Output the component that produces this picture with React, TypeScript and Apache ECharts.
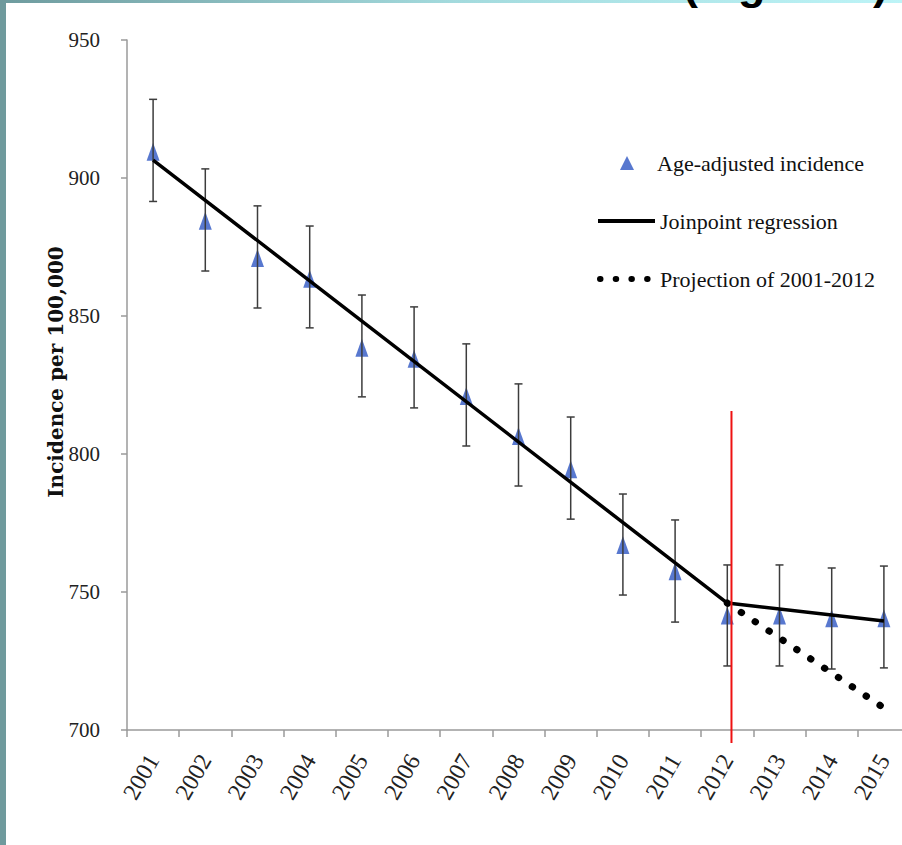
import React, { useEffect, useRef } from 'react';
import * as echarts from 'echarts';

const years = ['2001', '2002', '2003', '2004', '2005', '2006', '2007', '2008', '2009', '2010', '2011', '2012', '2013', '2014', '2015'];
const incidence = [909.5, 884.5, 871, 863.5, 838.5, 834.5, 821, 806.5, 794.5, 767, 757.5, 741.5, 741.5, 740.5, 740.5];
const ciLower = [891.5, 866.3, 852.9, 845.7, 820.7, 816.7, 802.9, 788.4, 776.4, 748.9, 739.1, 723.2, 723.2, 722.1, 722.5];
const ciUpper = [928.5, 903.3, 889.9, 882.6, 857.6, 853.3, 839.9, 825.4, 813.4, 785.5, 776.1, 759.8, 759.8, 758.7, 759.4];
const joinpoint = [906.5, null, null, null, null, null, null, null, null, null, null, 746, null, null, 739.5];
const projection = [null, null, null, null, null, null, null, null, null, null, null, 746, null, null, 708];
const yMin = 700;
const yMax = 950;
const yInterval = 50;
// joinpoint marker (position on a continuous 0..15 scale where category i spans [i, i+1])
const cutPosition = [11.58, 11.58];
const cutValues = [695.3, 815.6];

const SERIES_TRI = 'Age-adjusted incidence';
const SERIES_JP = 'Joinpoint regression';
const SERIES_PROJ = 'Projection of 2001-2012';

export default function App() {
  const ref = useRef<HTMLDivElement>(null);

  useEffect(() => {
    if (!ref.current) return;
    const chart = echarts.init(ref.current, undefined, { renderer: 'svg' });
    const serif = 'Liberation Serif';

    const option: any = {
      animation: false,
      backgroundColor: '#ffffff',
      grid: { left: 127, top: 40, bottom: 115, right: -8, containLabel: false, outerBoundsMode: 'none' },
      xAxis: [
        {
          type: 'category',
          data: years,
          boundaryGap: true,
          axisLine: { lineStyle: { color: '#9a9a9a', width: 1.5 } },
          axisTick: { show: true, length: 7, lineStyle: { color: '#9a9a9a', width: 1.5 } },
          axisLabel: {
            rotate: 60,
            margin: 26,
            fontFamily: serif,
            fontSize: 24,
            color: '#222',
          },
          splitLine: { show: false },
        },
        {
          type: 'value',
          min: 0,
          max: 15,
          show: false,
          position: 'bottom',
        },
      ],
      yAxis: {
        type: 'value',
        min: yMin,
        max: yMax,
        interval: yInterval,
        name: 'Incidence per 100,000',
        nameLocation: 'middle',
        nameRotate: 90,
        nameGap: 61,
        nameMoveOverlap: false,
        nameTextStyle: {
          fontFamily: 'DejaVu Serif',
          fontWeight: 'bold',
          fontSize: 20,
          color: '#111',
          padding: [0, 0, 0, 26],
        },
        axisLine: { show: true, lineStyle: { color: '#9a9a9a', width: 1.5 } },
        axisTick: { show: true, length: 6, lineStyle: { color: '#9a9a9a', width: 1.5 } },
        axisLabel: { margin: 27, fontFamily: serif, fontSize: 21, color: '#222' },
        splitLine: { show: false },
      },
      legend: [
        {
          orient: 'vertical',
          left: 615,
          top: 147,
          itemWidth: 14,
          itemHeight: 14,
          selectedMode: false,
          textStyle: { fontFamily: serif, fontSize: 22, color: '#111', padding: [0, 0, 0, 18] },
          data: [{ name: SERIES_TRI }],
        },
        {
          orient: 'vertical',
          left: 590,
          top: 205,
          itemWidth: 57,
          itemHeight: 13,
          itemGap: 36,
          selectedMode: false,
          textStyle: { fontFamily: serif, fontSize: 22, color: '#111' },
          data: [
            {
              name: SERIES_JP,
              itemStyle: { color: 'rgba(0,0,0,0)', borderWidth: 0 },
              lineStyle: { width: 4, color: '#000', type: 'solid' },
            },
            {
              name: SERIES_PROJ,
              itemStyle: { color: 'rgba(0,0,0,0)', borderWidth: 0 },
              lineStyle: { width: 6, color: '#000', type: [0.5, 15.2], cap: 'round', dashOffset: -2 },
            },
          ],
        },
      ],
      series: [
        {
          name: SERIES_TRI,
          type: 'scatter',
          data: incidence,
          symbol: 'triangle',
          symbolSize: [13, 18],
          itemStyle: { color: '#5878cf', opacity: 1 },
          z: 2,
        },
        {
          name: 'CI',
          type: 'custom',
          data: years.map((_, i) => [i, ciLower[i], ciUpper[i]]),
          encode: { x: 0, y: [1, 2] },
          z: 3,
          renderItem: (params: any, api: any) => {
            const idx = api.value(0);
            const lo = api.coord([idx, api.value(1)]);
            const hi = api.coord([idx, api.value(2)]);
            const hw = 4;
            const st = { stroke: '#3c3c3c', lineWidth: 1.5 };
            return {
              type: 'group',
              children: [
                { type: 'line', shape: { x1: lo[0], y1: lo[1], x2: hi[0], y2: hi[1] }, style: st },
                { type: 'line', shape: { x1: hi[0] - hw, y1: hi[1], x2: hi[0] + hw, y2: hi[1] }, style: st },
                { type: 'line', shape: { x1: lo[0] - hw, y1: lo[1], x2: lo[0] + hw, y2: lo[1] }, style: st },
              ],
            };
          },
        },
        {
          name: SERIES_JP,
          type: 'line',
          data: joinpoint,
          connectNulls: true,
          symbol: 'none',
          showSymbol: false,
          lineStyle: { color: '#000', width: 3.5 },
          itemStyle: { color: '#000' },
          z: 4,
        },
        {
          name: SERIES_PROJ,
          type: 'line',
          data: projection,
          connectNulls: true,
          symbol: 'none',
          showSymbol: false,
          lineStyle: { color: '#000', width: 7, type: [0.5, 16.2], cap: 'round' },
          itemStyle: { color: '#000' },
          z: 4,
        },
        {
          name: 'cut',
          type: 'line',
          xAxisIndex: 1,
          data: cutPosition.map((p, i) => [p, cutValues[i]]),
          symbol: 'none',
          showSymbol: false,
          clip: false,
          lineStyle: { color: '#ee1111', width: 2 },
          z: 5,
        },
      ],
      graphic: [
        {
          type: 'rect',
          left: 0,
          top: 0,
          shape: { width: 902, height: 3 },
          style: {
            fill: new echarts.graphic.LinearGradient(0, 0, 1, 0, [
              { offset: 0, color: '#6e9b9e' },
              { offset: 0.5, color: '#a3dadd' },
              { offset: 1, color: '#bdf4f7' },
            ]),
          },
          z: 10,
        },
        {
          type: 'rect',
          left: 0,
          top: 0,
          shape: { width: 6, height: 845 },
          style: { fill: '#6f9a9d' },
          z: 10,
        },
        {
          type: 'text',
          x: 683,
          y: 6,
          style: {
            text: '(Figure 1)',
            fontFamily: 'Liberation Sans',
            fontWeight: 'bold',
            fontSize: 45,
            fill: '#000',
            textVerticalAlign: 'bottom',
          },
          z: 11,
        },
      ],
    };

    chart.setOption(option);
    return () => chart.dispose();
  }, []);

  return (
    <div
      ref={ref}
      style={{ position: 'absolute', left: 0, top: 0, width: 902, height: 845, background: '#fff' }}
    />
  );
}
